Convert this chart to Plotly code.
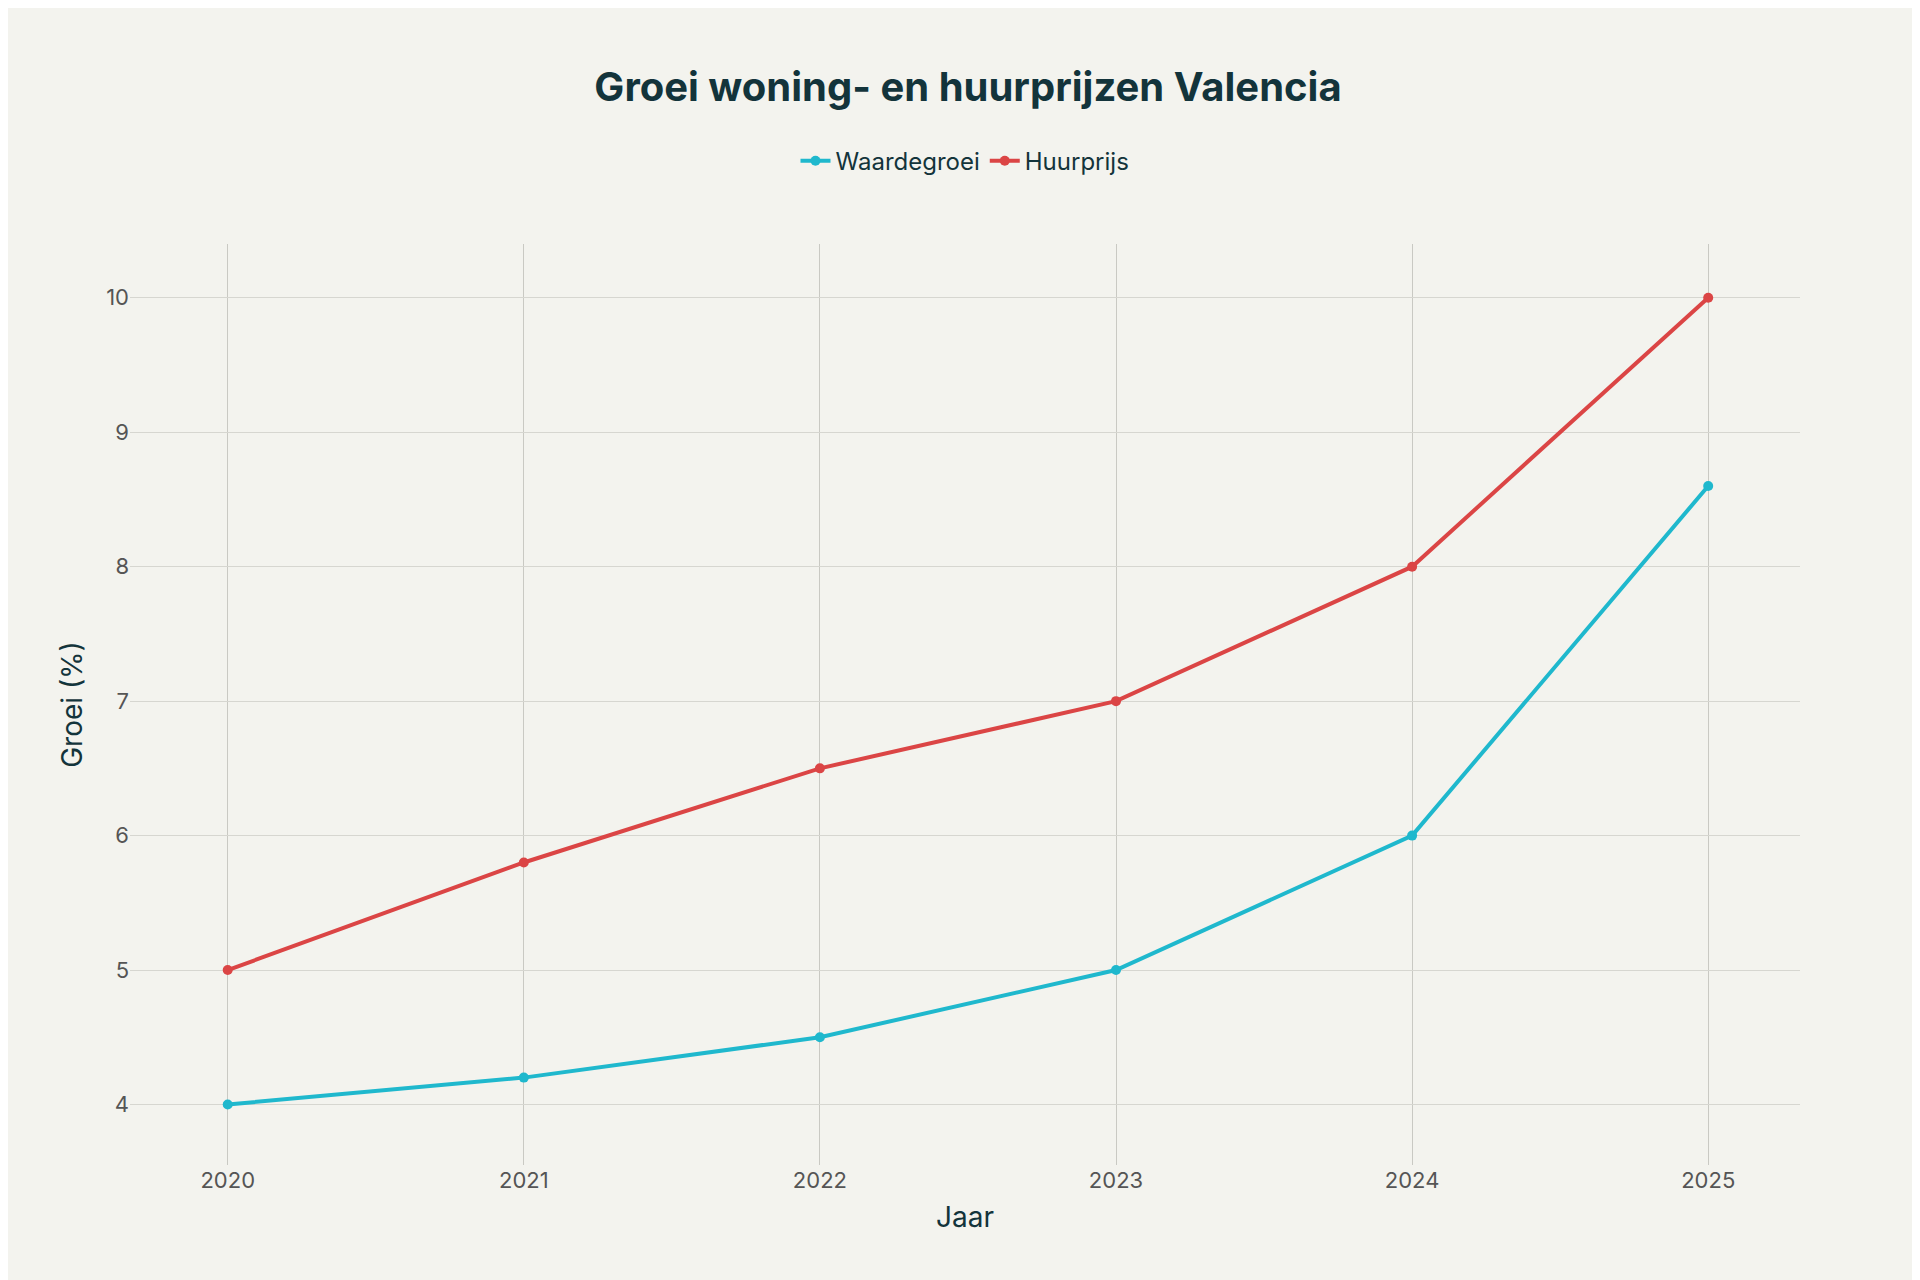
import plotly.graph_objects as go

years = [2020, 2021, 2022, 2023, 2024, 2025]
waardegroei = [4.0, 4.2, 4.5, 5.0, 6.0, 8.6]
huurprijs = [5.0, 5.8, 6.5, 7.0, 8.0, 10.0]

fig = go.Figure()
fig.add_trace(go.Scatter(x=years, y=waardegroei, name="Waardegroei", mode="lines+markers",
                         line=dict(color="#1FB8CD", width=4), marker=dict(size=10)))
fig.add_trace(go.Scatter(x=years, y=huurprijs, name="Huurprijs", mode="lines+markers",
                         line=dict(color="#DB4545", width=4), marker=dict(size=10)))

fig.update_layout(
    width=1920, height=1280,
    paper_bgcolor="#F3F3EE", plot_bgcolor="#F3F3EE",
    font=dict(family="Inter", size=22, color="#13343B"),
    title=dict(text="<b>Groei woning- en huurprijzen Valencia</b>", x=0.5, y=0.938,
               xanchor="center", yanchor="middle", font=dict(size=40)),
    legend=dict(orientation="h", x=0.5, xanchor="center", y=1.09, yanchor="middle",
                font=dict(size=24)),
    margin=dict(l=122, r=128, t=236, b=123),
)
fig.update_xaxes(title=dict(text="Jaar", font=dict(size=28)), range=[2019.67, 2025.31],
                 tickvals=years, showgrid=True, gridcolor="#C9C9C3", zeroline=False,
                 tickfont=dict(color="#555"))
fig.update_yaxes(title=dict(text="Groei (%)", font=dict(size=28)), range=[3.55, 10.4],
                 dtick=1, showgrid=True, gridcolor="#D6D6D0", zeroline=False,
                 tickfont=dict(color="#555"))

fig.write_html("out.html")
